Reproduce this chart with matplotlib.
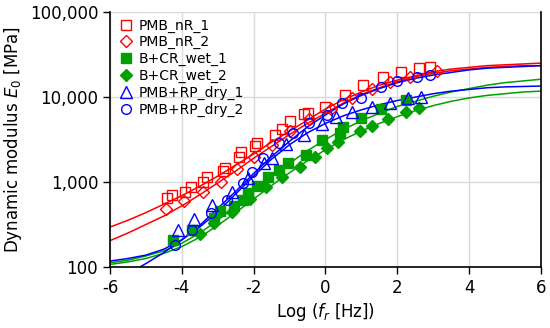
import numpy as np
import matplotlib.pyplot as plt
from matplotlib.ticker import FuncFormatter

plt.rcParams['axes.unicode_minus'] = False

# values, y given as log10(E0 / MPa)
series_names = ['PMB_nR_1', 'PMB_nR_2', 'B+CR_wet_1', 'B+CR_wet_2',
                'PMB+RP_dry_1', 'PMB+RP_dry_2']

nr1_x = [-4.4, -4.27, -3.9, -3.75, -3.4, -3.3, -2.85, -2.8, -2.4, -2.35, -1.95,
         -1.9, -1.4, -1.2, -1.0, -0.6, -0.5, 0.0, 0.55, 1.05, 1.6, 2.1, 2.6, 2.9]
nr1_y = [2.81, 2.85, 2.88, 2.94, 3.00, 3.06, 3.13, 3.17, 3.29, 3.35, 3.42,
         3.46, 3.55, 3.62, 3.72, 3.80, 3.81, 3.88, 4.02, 4.14, 4.24, 4.30, 4.34, 4.36]

nr2_x = [-4.45, -3.95, -3.4, -2.9, -2.45, -2.0, -1.5, -1.0, -0.45, 0.15,
         0.75, 1.3, 1.8, 2.35, 3.1]
nr2_y = [2.68, 2.78, 2.88, 3.00, 3.15, 3.30, 3.44, 3.60, 3.74, 3.86,
         3.99, 4.10, 4.18, 4.24, 4.31]

wet1_x = [-4.25, -3.72, -3.1, -2.95, -2.55, -2.3, -2.15, -1.9, -1.6, -1.3,
          -1.05, -0.55, -0.1, 0.4, 0.5, 1.0, 1.55, 2.25]
wet1_y = [2.32, 2.44, 2.58, 2.66, 2.72, 2.79, 2.87, 2.95, 3.06, 3.14,
          3.22, 3.32, 3.50, 3.58, 3.65, 3.75, 3.86, 3.96]

wet2_x = [-3.5, -3.1, -2.6, -2.1, -1.65, -1.2, -0.7, -0.3, 0.05, 0.35,
          0.95, 1.3, 1.75, 2.25, 2.6]
wet2_y = [2.39, 2.52, 2.65, 2.80, 2.94, 3.06, 3.18, 3.29, 3.40, 3.47,
          3.60, 3.66, 3.74, 3.82, 3.87]

dry1_x = [-4.1, -3.65, -3.15, -2.6, -2.15, -1.7, -1.5, -1.1, -0.6, -0.1,
          0.3, 0.75, 1.3, 1.8, 2.3, 2.65]
dry1_y = [2.44, 2.56, 2.73, 2.88, 3.05, 3.22, 3.28, 3.45, 3.55, 3.68,
          3.76, 3.82, 3.88, 3.93, 3.99, 4.00]

dry2_x = [-4.2, -3.72, -3.2, -2.75, -2.3, -2.05, -1.75, -1.3, -0.9, -0.45,
          0.05, 0.45, 1.0, 1.55, 2.0, 2.55, 2.9]
dry2_y = [2.26, 2.44, 2.63, 2.79, 2.99, 3.12, 3.28, 3.46, 3.58, 3.69,
          3.79, 3.93, 3.99, 4.12, 4.19, 4.24, 4.26]

# fitted master curves
curve_x = [-6, -5.5, -5, -4.5, -4, -3.5, -3, -2.5, -2, -1.5, -1, -0.5, 0,
           0.5, 1, 1.5, 2, 2.5, 3, 3.5, 4, 4.5, 5, 5.5, 6]
nr1_fit = [2.47, 2.55, 2.64, 2.74, 2.84, 2.95, 3.07, 3.20, 3.33, 3.47, 3.60,
           3.73, 3.86, 3.97, 4.06, 4.14, 4.20, 4.25, 4.30, 4.33, 4.35, 4.37,
           4.38, 4.39, 4.40]
nr2_fit = [2.31, 2.40, 2.50, 2.60, 2.72, 2.85, 2.99, 3.13, 3.28, 3.42, 3.56,
           3.69, 3.81, 3.93, 4.03, 4.11, 4.18, 4.24, 4.28, 4.31, 4.33, 4.35,
           4.36, 4.37, 4.37]
wet1_fit = [2.05, 2.08, 2.13, 2.19, 2.28, 2.40, 2.55, 2.72, 2.89, 3.06, 3.22,
            3.37, 3.50, 3.62, 3.72, 3.81, 3.89, 3.95, 4.01, 4.06, 4.10, 4.14,
            4.17, 4.19, 4.21]
wet2_fit = [2.03, 2.06, 2.10, 2.16, 2.24, 2.35, 2.49, 2.64, 2.80, 2.96, 3.11,
            3.25, 3.38, 3.50, 3.60, 3.69, 3.77, 3.84, 3.90, 3.95, 3.99, 4.02,
            4.04, 4.06, 4.07]
dry1_fit = [2.07, 2.10, 2.14, 2.21, 2.32, 2.47, 2.65, 2.86, 3.07, 3.27, 3.44,
            3.58, 3.69, 3.78, 3.85, 3.91, 3.96, 4.00, 4.04, 4.07, 4.09, 4.11,
            4.12, 4.125, 4.13]
dry2_fit = [1.80, 1.92, 2.04, 2.17, 2.32, 2.49, 2.69, 2.89, 3.10, 3.30, 3.48,
            3.65, 3.79, 3.92, 4.02, 4.10, 4.17, 4.22, 4.26, 4.29, 4.32, 4.34,
            4.35, 4.36, 4.37]

red, green, blue = '#FF0000', '#00A000', '#0000FF'

fig = plt.figure(figsize=(5.5, 3.28), dpi=100)
ax = fig.add_axes([0.2, 0.186, 0.7836, 0.777])

fits = [(nr1_fit, red), (nr2_fit, red), (wet1_fit, green), (wet2_fit, green),
        (dry1_fit, blue), (dry2_fit, blue)]
for fit, c in fits:
    ax.plot(curve_x, 10 ** np.array(fit), color=c, lw=1.1, zorder=2)

ms = 7
ax.plot(nr1_x, 10 ** np.array(nr1_y), 's', ms=ms, mfc='none', mec=red, mew=1,
        ls='none', label=series_names[0], zorder=3)
ax.plot(nr2_x, 10 ** np.array(nr2_y), 'D', ms=6.2, mfc='none', mec=red, mew=1,
        ls='none', label=series_names[1], zorder=3)
ax.plot(wet1_x, 10 ** np.array(wet1_y), 's', ms=ms, mfc=green, mec=green,
        ls='none', label=series_names[2], zorder=3)
ax.plot(wet2_x, 10 ** np.array(wet2_y), 'D', ms=6.2, mfc=green, mec=green,
        ls='none', label=series_names[3], zorder=3)
ax.plot(dry1_x, 10 ** np.array(dry1_y), '^', ms=ms + 1, mfc='none', mec=blue,
        mew=1, ls='none', label=series_names[4], zorder=3)
ax.plot(dry2_x, 10 ** np.array(dry2_y), 'o', ms=ms, mfc='none', mec=blue,
        mew=1, ls='none', label=series_names[5], zorder=3)

ax.set_yscale('log')
ax.set_xlim(-6, 6)
ax.set_ylim(100, 100000)
ax.set_xticks([-6, -4, -2, 0, 2, 4, 6])
ax.set_yticks([100, 1000, 10000, 100000])
ax.yaxis.set_major_formatter(FuncFormatter(lambda v, p: f'{int(round(v)):,}'))
ax.yaxis.set_minor_locator(plt.NullLocator())
ax.tick_params(labelsize=12, direction='out', length=5, width=1)
ax.grid(True, color='#D9D9D9', lw=1, zorder=0)
ax.set_axisbelow(True)
ax.spines['top'].set_visible(False)
for s in ['left', 'bottom', 'right']:
    ax.spines[s].set_linewidth(1.2)

ax.set_xlabel('Log ($f_r$ [Hz])', fontsize=12, labelpad=3)
ax.set_ylabel('Dynamic modulus $E_0$ [MPa]', fontsize=12, labelpad=4)

ax.legend(loc='upper left', frameon=False, fontsize=10, handlelength=0.8,
          handletextpad=0.5, labelspacing=0.2, borderaxespad=0.0,
          borderpad=0.45, bbox_to_anchor=(0.01, 1.0))

fig.savefig('out.png', dpi=100)
